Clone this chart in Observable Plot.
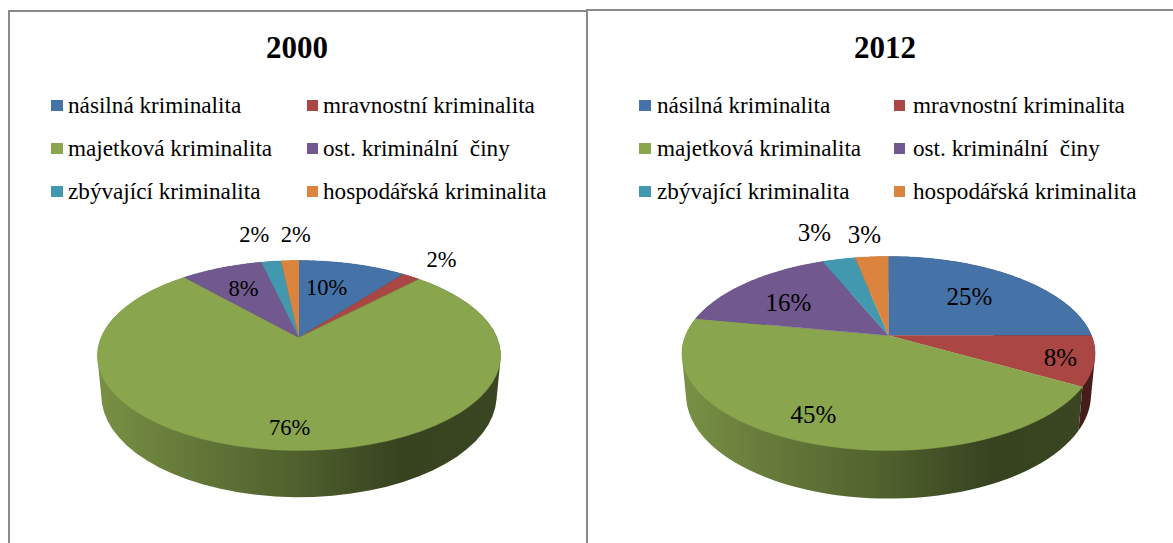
<!DOCTYPE html>
<html>
<head>
<meta charset="utf-8">
<script src="https://cdn.jsdelivr.net/npm/d3@7"></script>
<script src="https://cdn.jsdelivr.net/npm/@observablehq/plot@0.6"></script>
<style>
  html, body { margin: 0; padding: 0; background: #fff; }
  #page { position: relative; width: 1173px; height: 543px; overflow: hidden; font-family: "Liberation Serif", serif; color: #000; }
  .rule { position: absolute; background: #8a8a8a; }
  .title { position: absolute; top: 30px; font-size: 31px; font-weight: bold; line-height: 36px; transform: translateX(-50%); }
  .sw { position: absolute; width: 11.5px; height: 11.5px; }
  .lt { position: absolute; font-size: 23.2px; line-height: 28px; white-space: pre; }
  .chart { position: absolute; top: 215px; }
  .chart svg { display: block; background: transparent; }
</style>
</head>
<body>
<div id="page"></div>
<script>
const categories = ["násilná kriminalita", "mravnostní kriminalita", "majetková kriminalita", "ost. kriminální  činy", "zbývající kriminalita", "hospodářská kriminalita"];
const values2000 = [10.4, 1.7, 76.4, 7.9, 1.9, 1.7];
const values2012 = [25, 8.3, 44.7, 15.8, 3.1, 3.1];
const colors = ["#4572A7", "#AA4643", "#89A54E", "#71588F", "#4198AF", "#DB843D"];

// Where each percentage sits: distance from the pie centre (1 = rim) and a small turn (degrees) off the slice's mid-angle
const labelReach2000 = [0.629, 1.331, 0.829, 0.673, 1.458, 1.43];
const labelTurn2000 = [-4.4, -0.3, 1.7, -0.4, -1.8, 2.2];
const labelReach2012 = [0.624, 0.842, 0.803, 0.648, 1.44, 1.355];
const labelTurn2012 = [-1.2, 0.6, 3.1, -3.7, -1.8, -0.7];

// Side-wall shading: position across the pie and brightness
const shadeStops = [0, 0.25, 0.5, 0.75, 1];
const shadeLevels = [0.88, 0.72, 0.58, 0.40, 0.42];

const page = d3.select("#page");
const svgTop = 215, pageH = 543;

function drawPie(o) {
  const W = o.width, H = pageH - svgTop;
  const cy = o.centerY - svgTop;
  const tilt = o.b / o.a;
  // perspective projection of the unit disc
  const project = (u, v, sx = 1, sy = 1, dy = 0) => {
    const w = 1 - o.k * v;
    return {x: sx * u / w, y: sy * tilt * v / w + dy / o.a};
  };
  const arcs = d3.pie().sort(null)(o.values);
  const steps = a => d3.range(0, 61).map(i => a.startAngle + (a.endAngle - a.startAngle) * i / 60);
  const top = [], side = [];
  arcs.forEach((a, i) => {
    top.push({key: i, ...project(0, 0)});
    const rim = steps(a);
    const wall = [];
    rim.forEach(t => {
      const p = project(Math.sin(t), -Math.cos(t));
      top.push({key: i, ...p});
      const q = project(Math.sin(t), -Math.cos(t), 0.98, 1.07, o.depth);
      wall.push([p.x, p.y], [q.x, q.y]);
    });
    d3.polygonHull(wall).forEach(([x, y]) => side.push({key: i, x, y}));
  });
  const labels = arcs.map((a, i) => {
    const t = (a.startAngle + a.endAngle) / 2 + o.turn[i] * Math.PI / 180;
    const r = o.reach[i];
    return {text: Math.round(o.values[i]) + "%", ...project(r * Math.sin(t), -r * Math.cos(t))};
  });
  const gid = i => `${o.id}-side-${i}`;
  const plot = Plot.plot({
    width: W, height: H,
    margin: 0,
    style: {background: "transparent", overflow: "visible"},
    x: {axis: null, domain: [-o.centerX / o.a, (W - o.centerX) / o.a], range: [0, W]},
    y: {axis: null, domain: [-cy / o.a, (H - cy) / o.a], range: [0, H]},
    marks: [
      Plot.line(side, {x: "x", y: "y", z: "key", curve: "linear", fill: {value: d => `url(#${gid(d.key)})`, scale: null}, stroke: "none"}),
      Plot.line(top, {x: "x", y: "y", z: "key", curve: "linear", fill: {value: d => colors[d.key], scale: null}, stroke: {value: d => colors[d.key], scale: null}, strokeWidth: 0.4}),
      Plot.text(labels, {x: "x", y: "y", text: "text", fontSize: o.labelSize, fontFamily: "Liberation Serif", fill: "#000"}),
      (index, scales) => {
        const defs = d3.create("svg:defs");
        colors.forEach((c, i) => {
          const g = defs.append("linearGradient").attr("id", gid(i)).attr("gradientUnits", "userSpaceOnUse")
            .attr("x1", scales.x(-1.03)).attr("x2", scales.x(1.03)).attr("y1", 0).attr("y2", 0);
          shadeStops.forEach((s, j) => {
            const col = d3.rgb(c);
            g.append("stop").attr("offset", s).attr("stop-color", d3.rgb(col.r * shadeLevels[j], col.g * shadeLevels[j], col.b * shadeLevels[j]).formatHex());
          });
        });
        return defs.node();
      }
    ]
  });
  page.append("div").attr("class", "chart").style("left", o.left + "px").node().appendChild(plot);

  page.append("div").attr("class", "title").style("left", o.titleX + "px").text(o.title);
  categories.forEach((c, i) => {
    const col = i % 2, row = Math.floor(i / 2);
    const rowY = o.legendY[row];
    page.append("div").attr("class", "sw").style("left", o.swatchX[col] + "px").style("top", (rowY - 5.5) + "px").style("background", colors[i]);
    page.append("div").attr("class", "lt").style("left", o.textX[col] + "px").style("top", (rowY - 14) + "px").text(c);
  });
}

drawPie({
  id: "p2000", title: "2000", values: values2000, reach: labelReach2000, turn: labelTurn2000,
  left: 0, width: 586, centerX: 298.5, centerY: 337, a: 198, b: 91.6, k: 0.19, depth: 38.7, labelSize: 22.5,
  titleX: 297, swatchX: [51, 306.5], textX: [68, 323], legendY: [105, 148, 191]
});
drawPie({
  id: "p2012", title: "2012", values: values2012, reach: labelReach2012, turn: labelTurn2012,
  left: 586, width: 587, centerX: 302, centerY: 335, a: 203, b: 93.7, k: 0.1855, depth: 40, labelSize: 25,
  titleX: 885, swatchX: [639, 893.5], textX: [657, 913], legendY: [105, 148, 191]
});

[[8, 10, 2, 533], [8, 10, 578, 2], [585.5, 9, 2, 534], [586, 9, 587, 2]].forEach(([l, t, w, h]) => {
  page.append("div").attr("class", "rule").style("left", l + "px").style("top", t + "px").style("width", w + "px").style("height", h + "px");
});
</script>
</body>
</html>
